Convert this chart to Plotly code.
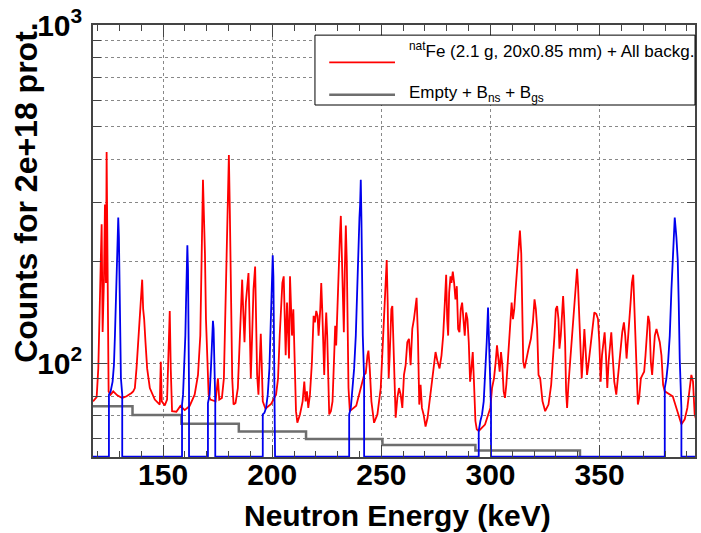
import plotly.graph_objects as go

# ---------------- data ----------------
# Red: natFe + all backgrounds (counts per bin, key points of the histogram)
red_energy = [
    117.9, 119.57, 120.33, 121.10, 121.86, 122.31, 122.92, 123.38, 123.84, 124.14,
    124.60, 125.05, 125.97, 127.18, 129.0, 131.29, 133.27, 134.8, 135.56, 136.32,
    137.08, 137.84, 138.6, 139.36, 139.82, 140.43, 140.88, 141.34, 141.95, 142.71,
    143.93, 146.21, 148.49, 148.95, 149.41, 150.78, 151.84, 152.6, 153.06, 153.52,
    154.12, 156.1, 157.93, 159.91, 162.19, 164.47, 166.0, 167.06, 167.67, 168.28,
    168.74, 169.19, 169.65, 170.26, 170.87, 171.63, 174.06, 175.13, 175.74, 176.96,
    177.87, 178.63, 179.09, 179.55, 180.15, 180.61, 181.07, 181.68, 182.28, 183.2,
    184.26, 185.02, 185.79, 186.24, 186.7, 187.31, 187.92, 188.52, 189.13, 189.59,
    190.2, 190.81, 191.42, 192.18, 192.63, 193.09, 193.7, 194.31, 194.76, 195.22,
    195.68, 196.9, 199.5, 201.76, 202.68, 203.44, 204.05, 204.66, 205.27, 205.72,
    206.18, 206.79, 207.25, 207.7, 208.16, 208.61, 209.07, 209.68, 210.29, 210.9,
    211.51, 212.72, 213.94, 214.7, 215.31, 215.92, 216.53, 217.29, 218.2, 218.97,
    219.57, 220.18, 220.79, 221.25, 222.01, 222.47, 222.92, 223.38, 223.83, 224.29,
    224.75, 225.2, 225.66, 226.12, 226.88, 227.64, 228.4, 228.86, 229.31, 229.92,
    230.38, 230.99, 231.44, 231.9, 232.36, 232.82, 233.27, 233.73, 234.19, 234.64,
    234.95, 235.56, 238.5, 242.11, 242.87, 243.63, 244.08, 244.69, 245.45, 246.67,
    248.19, 249.72, 250.78, 251.54, 252.0, 252.46, 252.91, 253.37, 253.82, 254.59,
    255.04, 255.5, 255.96, 256.56, 257.33, 258.09, 258.85, 259.61, 260.37, 261.13,
    261.89, 262.65, 263.41, 264.18, 264.94, 265.55, 266.15, 266.76, 267.37, 267.98,
    268.59, 269.35, 270.26, 271.18, 272.09, 273.0, 274.07, 274.83, 275.59, 276.66,
    277.57, 278.33, 279.09, 279.7, 280.16, 280.61, 281.07, 281.68, 282.13, 282.74,
    283.35, 283.96, 284.57, 285.18, 285.79, 286.4, 287.01, 287.62, 288.22, 288.83,
    289.44, 290.05, 290.66, 291.27, 291.88, 292.49, 293.1, 293.71, 294.62, 297.5,
    299.94, 300.71, 301.62, 302.38, 302.99, 303.6, 304.21, 304.82, 305.42, 306.03,
    306.64, 307.25, 307.86, 308.47, 309.08, 309.69, 310.3, 310.9, 311.51, 312.12,
    312.73, 313.49, 314.1, 314.56, 315.01, 315.62, 316.38, 317.45, 318.51, 319.42,
    320.18, 320.79, 321.4, 322.01, 322.77, 323.84, 325.06, 326.58, 327.8, 328.56,
    329.32, 329.93, 330.54, 331.15, 331.6, 332.21, 332.82, 333.28, 333.73, 334.19,
    334.65, 335.1, 335.71, 336.47, 337.23, 337.99, 338.76, 339.21, 339.67, 340.13,
    340.58, 341.19, 341.8, 342.41, 343.02, 343.63, 344.24, 344.85, 345.6, 346.37,
    346.98, 347.58, 348.5, 349.26, 349.87, 350.48, 351.09, 351.7, 352.3, 352.91,
    353.52, 354.13, 354.74, 355.35, 355.96, 356.72, 357.63, 358.54, 359.46, 360.37,
    361.13, 361.74, 362.35, 362.96, 363.57, 364.18, 364.78, 365.39, 365.85, 366.31,
    366.92, 367.52, 368.13, 368.89, 369.65, 370.41, 371.02, 371.63, 372.24, 372.85,
    373.46, 374.07, 374.68, 375.29, 376.05, 376.81, 377.57, 378.33, 379.09, 379.85,
    383.5, 387.47, 388.99, 390.2, 391.27, 392.03, 392.79, 393.55, 394.46, 395.53,
]
red_counts = [
    77.3, 79.5, 96.7, 151, 258, 124, 177, 295, 173, 422,
    173, 82.7, 80.9, 82.7, 80.5, 79.1, 80.0, 80.9, 81.8, 82.7,
    84.6, 96.7, 115.6, 138.3, 151.3, 176.9, 144.7, 135.3, 115.6, 96.7,
    84.6, 78.2, 75.6, 101.1, 77.3, 75.2, 78.2, 120.9, 143, 96.7,
    72.3, 72.0, 74.9, 72.8, 74.9, 80.9, 92.5, 120.9, 202, 349,
    270, 211.5, 135.3, 96.7, 80.9, 78.2, 77.3, 90.4, 78.2, 79.1,
    90.4, 151.3, 206.8, 264, 413, 276, 151.3, 90.4, 75.6, 76.4,
    84.6, 115.6, 151.3, 176.9, 144.7, 115.6, 151.3, 165.4, 185, 138.3,
    90.4, 120.9, 165.4, 193.4, 144.7, 92.5, 80.9, 98.9, 122.4, 98.9,
    77.3, 73.5, 76.0, 80.9, 90.4, 120.9, 151.3, 173, 180.9, 138.3,
    105.7, 151.3, 120.9, 103.4, 180.9, 138.3, 120.9, 144.7, 101.1, 72.3,
    66.8, 70.7, 77.3, 88.4, 77.3, 82.7, 73.9, 80.9, 101.1, 138.3,
    132.3, 143, 138.3, 120.9, 144.7, 173, 144.7, 110.6, 92.5, 120.9,
    141.5, 120.9, 84.6, 70.7, 72.3, 77.3, 105.7, 129.3, 113.1, 151.3,
    197.8, 236, 273, 211.5, 151.3, 123.7, 189.2, 255.5, 197.8, 120.9,
    84.6, 72.3, 75.0, 92.5, 93.6, 105.7, 109.1, 96.7, 77.3, 66.8,
    70.7, 84.6, 120.9, 154.7, 180.9, 202.2, 151.3, 90.4, 105.7, 144.7,
    147.9, 110.6, 84.6, 69.1, 79.1, 84.6, 80.9, 73.9, 92.5, 98.9,
    115.6, 118.3, 98.9, 126.5, 135.3, 144.7, 156.4, 120.9, 75.6, 86.5,
    73.9, 70.7, 65.1, 69.1, 77.3, 84.6, 94.6, 108.1, 102.2, 96.7,
    105.7, 120.9, 151.3, 183, 135.3, 120.9, 161.8, 180.9, 173, 187,
    173, 154.7, 169.2, 126.5, 123.7, 144.7, 151.3, 135.3, 120.9, 141.5,
    135.3, 115.6, 88.4, 96.7, 108.1, 86.5, 67.6, 63.9, 63.2, 66.0,
    73.9, 84.6, 90.4, 101.1, 113.1, 103.4, 94.6, 108.1, 98.9, 82.7,
    79.1, 86.5, 101.1, 115.6, 135.3, 151.3, 135.3, 144.7, 165.4, 189.2,
    211.5, 247, 211.5, 151.3, 101.1, 96.7, 103.4, 110.6, 118.3, 132.3,
    154.7, 144.7, 126.5, 92.5, 90.4, 77.3, 72.3, 75.6, 86.5, 101.1,
    120.9, 144.7, 147.9, 135.3, 110.6, 120.9, 151.3, 158.2, 138.3, 115.6,
    82.7, 73.9, 86.5, 101.1, 115.6, 138.3, 158.2, 180.9, 190.5, 169.2,
    138.3, 105.7, 90.4, 105.7, 126.5, 108.1, 92.5, 98.9, 110.6, 120.9,
    135.3, 141.5, 140, 135.3, 115.6, 88.4, 105.7, 115.6, 123.7, 105.7,
    84.6, 101.1, 115.6, 123.7, 105.7, 88.4, 80.9, 92.5, 110.6, 123.7,
    132.3, 120.9, 103.4, 115.6, 132.3, 151.3, 173, 183, 151.3, 120.9,
    92.5, 75.6, 79.1, 90.4, 92.5, 94.6, 105.7, 120.9, 138.3, 132.3,
    101.1, 92.5, 108.1, 120.9, 126.5, 120.9, 115.6, 105.7, 86.5, 82.7,
    80.0, 66.1, 68.4, 73.9, 84.6, 92.5, 88.4, 70.7, 67.6, 73.9,
]

# Blue: resonance windows (zero elsewhere, drawn on the frame floor)
blue_energy = [
    117.9, 125.2,
    125.2, 125.97, 126.88, 127.49, 127.95, 128.4, 128.86, 129.16, 129.47, 129.77, 130.08, 130.38, 130.69, 131.29,
    131.29, 158.69,
    158.69, 159.15, 159.76, 160.21, 160.52, 160.82, 161.13, 161.43, 161.74, 161.89,
    161.89, 170.56,
    170.56, 171.33, 171.93, 172.39, 172.85, 173.15, 173.46, 173.91,
    173.91, 195.68,
    195.68, 196.44, 197.2, 197.96, 198.72, 199.48, 199.94, 200.24, 200.55, 200.85, 201.31,
    201.31, 235.26,
    235.26, 236.02, 236.78, 237.54, 238.3, 239.06, 239.52, 239.97, 240.28, 240.58, 240.89, 241.19, 241.5, 242.11,
    242.11, 294.62,
    294.62, 295.38, 296.14, 296.9, 297.66, 298.27, 298.88, 299.33, 299.79, 300.25,
    300.25, 379.85,
    379.85, 380.61, 381.38, 382.14, 382.9, 383.66, 384.42, 385.18, 385.79, 386.24, 386.7, 387.47,
    387.47, 400.0,
]
blue_counts = [
    53, 53,
    80.9, 82.7, 88.4, 98.9, 120.9, 151.3, 197.8, 236, 270, 236, 180.9, 120.9, 90.4, 80.9,
    53, 53,
    75.6, 80.9, 96.7, 120.9, 151.3, 189.2, 223.5, 189.2, 120.9, 84.6,
    53, 53,
    76.4, 80.9, 96.7, 120.9, 133.8, 126.5, 96.7, 77.3,
    53, 53,
    70.7, 71.5, 73.9, 80.9, 96.7, 135.3, 180.9, 209, 180.9, 120.9, 82.7,
    53, 53,
    70.7, 73.9, 84.6, 96.7, 120.9, 189.2, 226, 270, 295, 349, 264, 189.2, 120.9, 90.4,
    53, 53,
    63.2, 67.6, 70.7, 77.3, 92.5, 115.6, 146.3, 120.9, 96.7, 73.9,
    53, 53,
    84.6, 90.4, 101.1, 120.9, 165.4, 226, 270, 236, 202.2, 151.3, 103.4, 73.9,
    53, 53,
]

# Gray: Empty + Bns + Bgs (variable-width bins)
gray_edges = [117.9, 136.0, 158.4, 184.7, 215.5, 250.5, 293.1, 341.0, 400.0]
gray_counts = [74.8, 70.4, 66.4, 62.9, 59.8, 57.4, 55.3, 50.0]

x_ticks = [150, 200, 250, 300, 350]
x_minor = [120, 130, 140, 160, 170, 180, 190, 210, 220, 230, 240, 260, 270, 280,
           290, 310, 320, 330, 340, 360, 370, 380, 390]
y_ticks = [100, 1000]
y_ticktext = ["10<sup>2</sup>", "10<sup>3</sup>"]
y_minor = [60, 70, 80, 90, 200, 300, 400, 500, 600, 700, 800, 900]

legend_labels = ["<sup>nat</sup>Fe (2.1 g, 20x0.85 mm) + All backg.",
                 "Empty + B<sub>ns</sub> + B<sub>gs</sub>"]
x_title = "Neutron Energy (keV)"
y_title = "Counts for 2e+18 prot."

# ---------------- figure ----------------
W, H = 701, 533
L, R, T, B = 93, 4, 18, 76
PW, PH = W - L - R, H - T - B


def px(x):
    return (x - L) / PW


def py(y):
    return (H - B - y) / PH


RED = "#ff0000"
BLUE = "#0000ee"
GRAY = "#6e6e6e"
FONT = "Liberation Sans"

fig = go.Figure()
fig.add_trace(go.Scatter(x=gray_edges, y=gray_counts + [gray_counts[-1]], mode="lines",
                         line=dict(color=GRAY, width=2.5, shape="hv"), showlegend=False))
fig.add_trace(go.Scatter(x=red_energy, y=red_counts, mode="lines",
                         line=dict(color=RED, width=1.8), showlegend=False))
fig.add_trace(go.Scatter(x=blue_energy, y=blue_counts, mode="lines",
                         line=dict(color=BLUE, width=1.8), showlegend=False))

axis_common = dict(showline=True, linecolor="#444", linewidth=1.5, mirror="allticks",
                   ticks="inside", tickcolor="#444", tickwidth=1,
                   showgrid=True, gridcolor="#888", griddash="dot", gridwidth=1,
                   zeroline=False, ticklabeloverflow="allow",
                   tickfont=dict(family=FONT, size=30, color="black", weight="bold"))

fig.update_xaxes(range=[117.9, 393.7], tickmode="array", tickvals=x_ticks, ticklen=12,
                 minor=dict(tickvals=x_minor, ticklen=6, ticks="inside", tickcolor="#444",
                            showgrid=False),
                 ticklabelstandoff=-10, **axis_common)
fig.update_yaxes(type="log", range=[1.7236, 3.0004], tickmode="array", tickvals=y_ticks,
                 ticktext=y_ticktext, ticklen=14,
                 minor=dict(tickvals=y_minor, ticklen=8, ticks="inside", tickcolor="#444",
                            showgrid=True, gridcolor="#888", griddash="dot"),
                 ticklabelstandoff=3, **axis_common)

# legend box
fig.add_shape(type="rect", xref="paper", yref="paper",
              x0=px(315.7), x1=px(697), y0=py(99.3), y1=py(28.3),
              line=dict(color="black", width=1), fillcolor="white", layer="above")
fig.add_shape(type="line", xref="paper", yref="paper", x0=px(330), x1=px(396),
              y0=py(56), y1=py(56), line=dict(color=RED, width=1.6))
fig.add_shape(type="line", xref="paper", yref="paper", x0=px(330), x1=px(396),
              y0=py(89), y1=py(89), line=dict(color=GRAY, width=2.5))
fig.add_annotation(xref="paper", yref="paper", x=px(408), y=py(43), xanchor="left",
                   yanchor="middle", text=legend_labels[0], showarrow=False,
                   font=dict(family=FONT, size=17, color="black"))
fig.add_annotation(xref="paper", yref="paper", x=px(408), y=py(88), xanchor="left",
                   yanchor="middle", text=legend_labels[1], showarrow=False,
                   font=dict(family=FONT, size=17, color="black"))

# axis titles
fig.add_annotation(xref="paper", yref="paper", x=px(399), y=py(516), xanchor="center",
                   yanchor="middle", text=x_title, showarrow=False,
                   font=dict(family=FONT, size=30, color="black", weight="bold"))
fig.add_annotation(xref="paper", yref="paper", x=px(25), y=py(13), xanchor="center",
                   yanchor="top", text=y_title, textangle=-90, showarrow=False,
                   font=dict(family=FONT, size=32, color="black", weight="bold"))

fig.update_layout(width=W, height=H, margin=dict(l=L, r=R, t=T, b=B),
                  paper_bgcolor="white", plot_bgcolor="white", showlegend=False)

fig.write_html("out.html")
